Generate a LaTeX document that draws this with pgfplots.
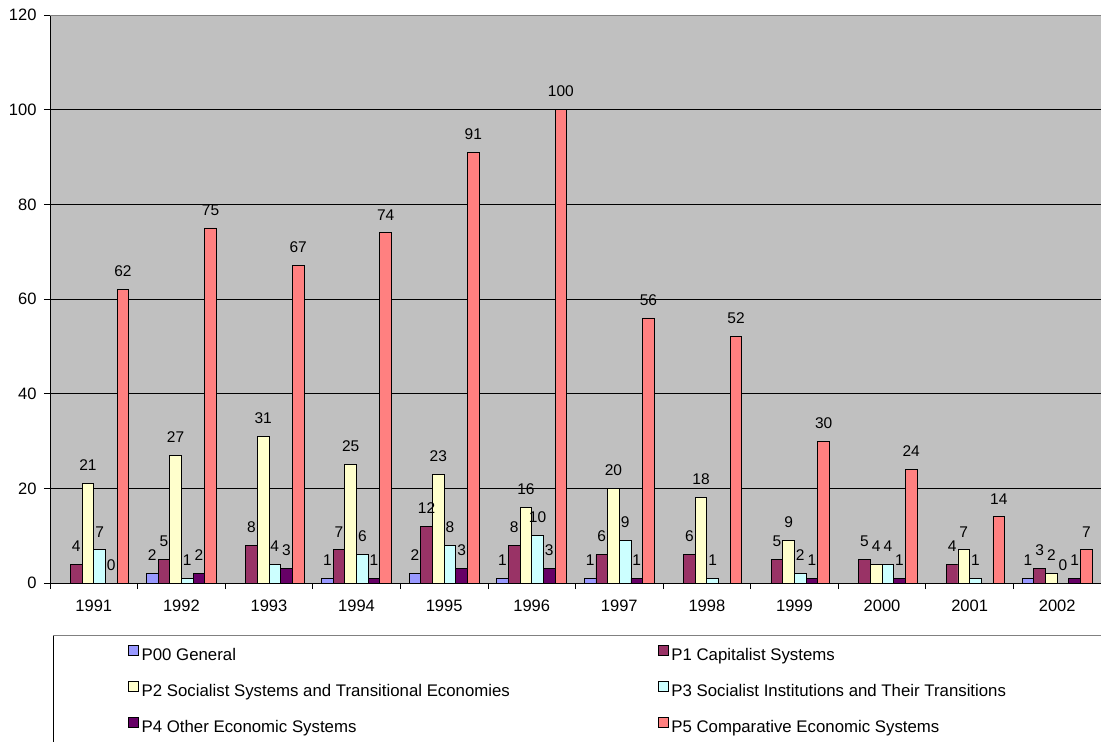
\documentclass[border=0pt]{standalone}
\usepackage{pgfplots}
\pgfplotsset{compat=1.18}
\usepackage{fontspec}
\setmainfont{Liberation Sans}

\definecolor{pzero}{HTML}{9999FF}
\definecolor{pone}{HTML}{993366}
\definecolor{ptwo}{HTML}{FFFFCC}
\definecolor{pthree}{HTML}{CCFFFF}
\definecolor{pfour}{HTML}{660066}
\definecolor{pfive}{HTML}{FF8080}
\definecolor{plotbg}{HTML}{C0C0C0}

\begin{document}
\fontsize{16}{19}\selectfont
\begin{tikzpicture}
\path[use as bounding box] (-50pt,-159pt) rectangle (1051pt,583pt);
\begin{axis}[
    scale only axis,
    width=1051pt, height=568pt,
    ybar=0pt, bar width=11.67pt,
    xmin=-0.5, xmax=11.5,
    ymin=0, ymax=120,
    axis background/.style={fill=plotbg},
    axis x line*=bottom, axis y line*=left,
    axis line style={-, black, line width=0.8pt},
    tick align=outside, major tick length=6pt,
    tick style={black, line width=0.8pt},
    tick label style={font=\fontsize{16.5}{19}\selectfont},
    ytick={0,20,...,100},
    extra y ticks={120},
    extra y tick style={major grid style={draw=gray, line width=0.8pt}},
    yticklabel style={xshift=-2pt},
    ymajorgrids=true,
    major grid style={black, line width=0.7pt},
    xtick={0,...,11},
    xticklabels={1991,1992,1993,1994,1995,1996,1997,1998,1999,2000,2001,2002},
    xticklabel style={yshift=-5pt},
    xtick style={draw=none},
    extra x ticks={-0.5,0.5,...,11.5},
    extra x tick labels={},
    extra x tick style={xtick style={draw=black}},
    /pgf/number format/assume math mode=true,
    nodes near coords,
    every node near coord/.append style={black, yshift=7pt, font=\fontsize{15.5}{18}\selectfont},
    every axis plot/.append style={draw=black, line width=0.8pt},
    legend image code/.code={\draw[#1, draw=black, line width=0.7pt] (0pt,1pt) rectangle (10pt,11pt);},
    legend columns=2,
    legend cell align=left,
    legend style={at={(axis description cs:0,0)}, anchor=north west,
        xshift=78pt, yshift=-55pt, draw=none, fill=none,
        inner sep=0pt, outer sep=0pt, row sep=0pt, column sep=0pt,
        font=\fontsize{16.8}{19}\selectfont,
        nodes={minimum height=36pt, inner ysep=0pt, inner xsep=3pt}},
]
% P00 General
\addplot[fill=pzero] coordinates {(1,2) (3,1) (4,2) (5,1) (6,1) (11,1)};
% P1 Capitalist Systems
\addplot[fill=pone] coordinates {(0,4) (1,5) (2,8) (3,7) (4,12) (5,8) (6,6) (7,6) (8,5) (9,5) (10,4) (11,3)};
% P2 Socialist Systems and Transitional Economies
\addplot[fill=ptwo] coordinates {(0,21) (1,27) (2,31) (3,25) (4,23) (5,16) (6,20) (7,18) (8,9) (9,4) (10,7) (11,2)};
% P3 Socialist Institutions and Their Transitions
\addplot[fill=pthree] coordinates {(0,7) (1,1) (2,4) (3,6) (4,8) (5,10) (6,9) (7,1) (8,2) (9,4) (10,1) (11,0)};
% P4 Other Economic Systems
\addplot[fill=pfour] coordinates {(0,0) (1,2) (2,3) (3,1) (4,3) (5,3) (6,1) (8,1) (9,1) (11,1)};
% P5 Comparative Economic Systems
\addplot[fill=pfive] coordinates {(0,62) (1,75) (2,67) (3,74) (4,91) (5,100) (6,56) (7,52) (8,30) (9,24) (10,14) (11,7)};
\legend{\makebox[513pt][l]{P00 General}, P1 Capitalist Systems,
        \makebox[513pt][l]{P2 Socialist Systems and Transitional Economies}, P3 Socialist Institutions and Their Transitions,
        \makebox[513pt][l]{P4 Other Economic Systems}, P5 Comparative Economic Systems}
\end{axis}
\draw[black, line width=0.8pt] (3pt,-220pt) -- (3pt,-52pt);
\draw[gray, line width=0.8pt] (3pt,-52pt) -- (1200pt,-52pt);
\end{tikzpicture}
\end{document}
